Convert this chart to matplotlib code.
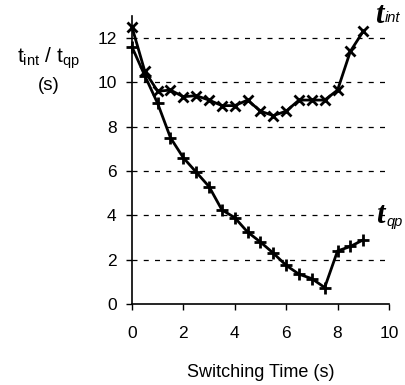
import matplotlib
matplotlib.use("Agg")
import matplotlib.pyplot as plt

plt.rcParams['font.family'] = ['Liberation Sans', 'DejaVu Sans']

# Switching time (s)
switch_time = [0, 0.5, 1, 1.5, 2, 2.5, 3, 3.5, 4, 4.5, 5, 5.5, 6, 6.5, 7, 7.5, 8, 8.5, 9]
t_int = [12.5, 10.5, 9.6, 9.65, 9.35, 9.4, 9.2, 8.95, 8.95, 9.2, 8.7, 8.5, 8.7, 9.2, 9.2, 9.2, 9.65, 11.4, 12.3]
t_qp = [11.6, 10.3, 9.05, 7.5, 6.6, 5.95, 5.3, 4.25, 3.9, 3.25, 2.8, 2.3, 1.75, 1.35, 1.15, 0.75, 2.4, 2.6, 2.9]
y_ticks = [0, 2, 4, 6, 8, 10, 12]
x_ticks = [0, 2, 4, 6, 8, 10]

fig = plt.figure(figsize=(4.06, 3.85), dpi=100)
ax = fig.add_axes([0.325, 0.21, 0.633, 0.749])

# dashed horizontal grid
for yv in y_ticks[1:]:
    ax.axhline(yv, color='black', linestyle=(0, (4, 5)), linewidth=0.9, zorder=1)

ax.plot(switch_time, t_int, color='black', linewidth=2, marker='x',
        markersize=7, markeredgewidth=2, zorder=3, clip_on=False)
ax.plot(switch_time, t_qp, color='black', linewidth=2, marker='+',
        markersize=8, markeredgewidth=2, zorder=3, clip_on=False)

ax.set_xlim(0, 10)
ax.set_ylim(0, 13)
ax.set_xticks(x_ticks)
ax.set_yticks(y_ticks)
ax.tick_params(labelsize=12.5, length=4, width=1, direction='out')
ax.tick_params(axis='x', pad=12)
ax.tick_params(axis='y', pad=7)
for s in ['top', 'right']:
    ax.spines[s].set_visible(False)
for s in ['left', 'bottom']:
    ax.spines[s].set_linewidth(1.2)

ax.set_xlabel('Switching Time (s)', fontsize=13, labelpad=16)

# y label drawn as two horizontal lines at top-left
fig.text(0.12, 0.849, r'$\mathregular{t_{int}}$ / $\mathregular{t_{qp}}$', fontsize=15, ha='center', va='center')
fig.text(0.12, 0.779, '(s)', fontsize=13.5, ha='center', va='center')

# series labels
ax.text(9.45, 13.0, 't', fontsize=22, family='Liberation Serif', style='italic',
        weight='bold', ha='left', va='center', clip_on=False)
ax.text(9.85, 12.9, 'int', fontsize=10.5, style='italic',
        ha='left', va='center', clip_on=False)
ax.text(9.5, 4.0, 't', fontsize=22, family='Liberation Serif', style='italic',
        weight='bold', ha='left', va='center', clip_on=False)
ax.text(9.9, 3.7, 'qp', fontsize=10.5, style='italic',
        ha='left', va='center', clip_on=False)

fig.savefig('out.png', dpi=100)
